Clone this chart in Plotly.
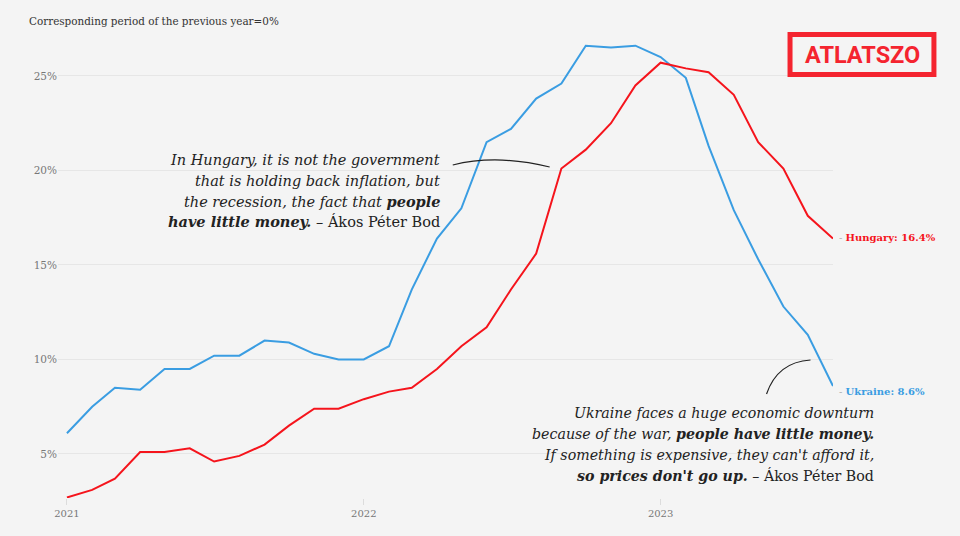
import plotly.graph_objects as go

months = ["2021-01-01", "2021-02-01", "2021-03-01", "2021-04-01", "2021-05-01", "2021-06-01",
          "2021-07-01", "2021-08-01", "2021-09-01", "2021-10-01", "2021-11-01", "2021-12-01",
          "2022-01-01", "2022-02-01", "2022-03-01", "2022-04-01", "2022-05-01", "2022-06-01",
          "2022-07-01", "2022-08-01", "2022-09-01", "2022-10-01", "2022-11-01", "2022-12-01",
          "2023-01-01", "2023-02-01", "2023-03-01", "2023-04-01", "2023-05-01", "2023-06-01",
          "2023-07-01", "2023-08-01"]
ukraine = [6.1, 7.5, 8.5, 8.4, 9.5, 9.5, 10.2, 10.2, 11.0, 10.9, 10.3, 10.0,
           10.0, 10.7, 13.7, 16.4, 18.0, 21.5, 22.2, 23.8, 24.6, 26.6, 26.5, 26.6,
           26.0, 24.9, 21.3, 17.9, 15.3, 12.8, 11.3, 8.6]
hungary = [2.7, 3.1, 3.7, 5.1, 5.1, 5.3, 4.6, 4.9, 5.5, 6.5, 7.4, 7.4,
           7.9, 8.3, 8.5, 9.5, 10.7, 11.7, 13.7, 15.6, 20.1, 21.1, 22.5, 24.5,
           25.7, 25.4, 25.2, 24.0, 21.5, 20.1, 17.6, 16.4]
y_ticks = [5, 10, 15, 20, 25]
y_tick_labels = ["5%", "10%", "15%", "20%", "25%"]
x_ticks = ["2021-01-01", "2022-01-01", "2023-01-01"]
x_tick_labels = ["2021", "2022", "2023"]

BLUE = "#3a9de2"
RED = "#f5141c"
BG = "#f4f4f4"
SERIF = "DejaVu Serif"

W, H = 960, 536
L, R, T, B = 58, 126.5, 30, 38
PW, PH = W - L - R, H - T - B


def px(x):
    return (x - L) / PW


def py(y):
    return (H - B - y) / PH


fig = go.Figure()
fig.add_trace(go.Scatter(x=months, y=ukraine, mode="lines", line=dict(color=BLUE, width=2),
                         name="Ukraine", hoverinfo="skip"))
fig.add_trace(go.Scatter(x=months, y=hungary, mode="lines", line=dict(color=RED, width=2),
                         name="Hungary", hoverinfo="skip"))

ann = []
ann.append(dict(x=px(27), y=py(21), xref="paper", yref="paper", xanchor="left", yanchor="middle",
                text="Corresponding period of the previous year=0%", showarrow=False,
                font=dict(family=SERIF, size=10.4, color="#333")))

# end labels
ann.append(dict(x=months[-1], y=hungary[-1], xref="x", yref="y", xanchor="left", yanchor="middle",
                xshift=4, yshift=1, showarrow=False,
                text="<span style='color:#aaa'>-</span> <b>Hungary: %.1f%%</b>" % hungary[-1],
                font=dict(family=SERIF, size=10, color=RED)))
ann.append(dict(x=months[-1], y=ukraine[-1], xref="x", yref="y", xanchor="left", yanchor="middle",
                xshift=4, yshift=-6, showarrow=False,
                text="<span style='color:#aaa'>-</span> <b>Ukraine: %.1f%%</b>" % ukraine[-1],
                font=dict(family=SERIF, size=10, color=BLUE)))

q1 = ["<i>In Hungary, it is not the government</i>",
      "<i>that is holding back inflation, but</i>",
      "<i>the recession, the fact that </i><b><i>people</i></b>",
      "<b><i>have little money.</i></b> – Ákos Péter Bod"]
q1_y = [160, 181, 201, 221]
for t, yy in zip(q1, q1_y):
    ann.append(dict(x=px(442), y=py(yy), xref="paper", yref="paper", xanchor="right", yanchor="middle",
                    text=t, showarrow=False, font=dict(family=SERIF, size=14.5, color="#222")))

q2 = ["<i>Ukraine faces a huge economic downturn</i>",
      "<i>because of the war, </i><b><i>people have little money.</i></b>",
      "<i>If something is expensive, they can't afford it,</i>",
      "<b><i>so prices don't go up.</i></b> – Ákos Péter Bod"]
q2_y = [413, 434, 455, 475]
for t, yy in zip(q2, q2_y):
    ann.append(dict(x=px(877), y=py(yy), xref="paper", yref="paper", xanchor="right", yanchor="middle",
                    text=t, showarrow=False, font=dict(family=SERIF, size=14.2, color="#222")))

# logo
ann.append(dict(x=px(863), y=py(55), xref="paper", yref="paper", xanchor="center", yanchor="middle",
                text="<b>ATLATSZO</b>", showarrow=False,
                font=dict(family="Roboto", size=23.5, color="#f4242f", weight=900)))

shapes = []
shapes.append(dict(type="rect", xref="paper", yref="paper", x0=px(790.5), x1=px(934.5),
                   y0=py(74.5), y1=py(34.5), line=dict(color="#f4242f", width=5), fillcolor="rgba(0,0,0,0)"))


def path_q(p0, c, p1):
    return "M %f,%f Q %f,%f %f,%f" % (px(p0[0]), py(p0[1]), px(c[0]), py(c[1]), px(p1[0]), py(p1[1]))


shapes.append(dict(type="path", xref="paper", yref="paper",
                   path=path_q((453, 165), (497, 154), (550, 167)),
                   line=dict(color="#222", width=1.2)))
shapes.append(dict(type="path", xref="paper", yref="paper",
                   path=path_q((767, 394), (778, 362), (811, 360)),
                   line=dict(color="#222", width=1.2)))

fig.update_layout(
    width=W, height=H,
    margin=dict(l=L, r=R, t=T, b=B),
    paper_bgcolor=BG, plot_bgcolor=BG,
    showlegend=False,
    annotations=ann,
    shapes=shapes,
    xaxis=dict(range=["2020-12-21", "2023-08-01"], tickvals=x_ticks, ticktext=x_tick_labels,
               showgrid=False, zeroline=False, showline=False, ticks="outside", ticklen=6,
               tickcolor="#dcdcdc", tickfont=dict(family=SERIF, size=10, color="#777")),
    yaxis=dict(range=[2.672, 27.43], tickvals=y_ticks, ticktext=y_tick_labels, showgrid=True,
               gridcolor="#e6e6e6", gridwidth=1, zeroline=False, showline=False,
               tickfont=dict(family=SERIF, size=10.5, color="#777")),
)

fig.write_html("out.html", config={"displayModeBar": False},
               post_script="document.body.style.margin='0';document.body.style.overflow='hidden';"
                           "document.body.style.background='#f4f4f4';")
